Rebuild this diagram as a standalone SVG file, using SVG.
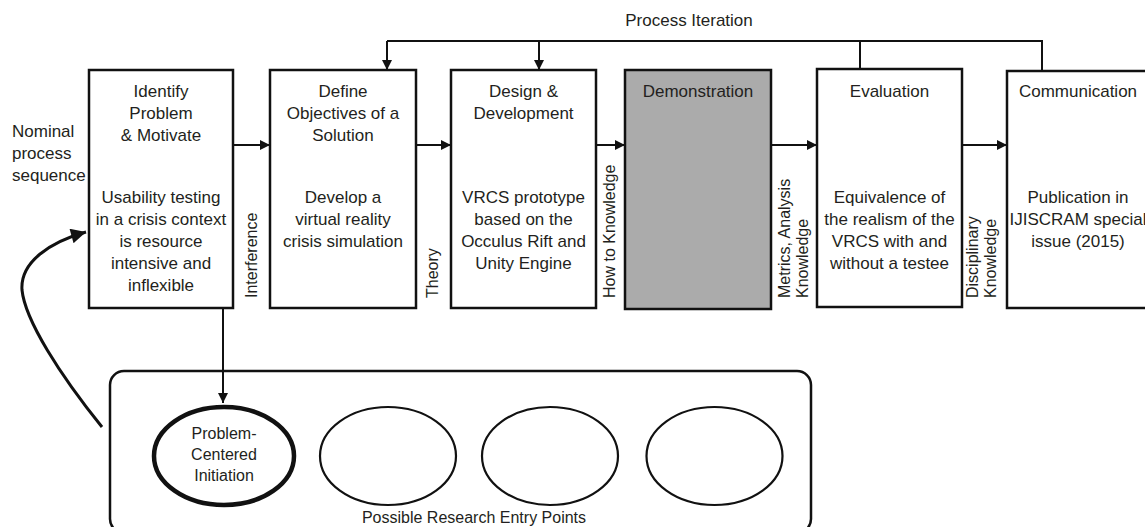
<svg xmlns="http://www.w3.org/2000/svg" width="1145" height="527" viewBox="0 0 1145 527">
<style>
text{font-family:"Liberation Sans",Arial,sans-serif;fill:#231f20;}
.t{font-size:17px;text-anchor:middle;}
.s{font-size:16px;}
.m{font-size:16px;text-anchor:middle;}
.box{fill:#fff;stroke:#111;stroke-width:2.5;}
.ln{fill:none;stroke:#111;stroke-width:2;}
.ell{fill:#fff;stroke:#111;stroke-width:2.2;}
</style>
<defs>
<marker id="ah" viewBox="0 0 10 10" refX="10" refY="5" markerWidth="10" markerHeight="10" markerUnits="userSpaceOnUse" orient="auto">
<path d="M0,0 L10,5 L0,10 Z" fill="#111"/>
</marker>
<marker id="ahBig" viewBox="0 0 10 10" refX="10" refY="5" markerWidth="17" markerHeight="15" markerUnits="userSpaceOnUse" orient="auto">
<path d="M0,0 L10,5 L0,10 Z" fill="#111"/>
</marker>
</defs>

<text x="689" y="26" class="t">Process Iteration</text>
<text x="12" y="137" style="font-size:17px">Nominal</text>
<text x="12" y="159" style="font-size:17px">process</text>
<text x="12" y="181" style="font-size:17px">sequence</text>

<g id="container">
<rect x="110" y="371" width="701" height="162" rx="14" fill="none" stroke="#111" stroke-width="2.5"/>
<text x="474" y="523" class="m">Possible Research Entry Points</text>
</g>

<g id="n1">
<rect class="box" x="89" y="70" width="144" height="238"/>
<text class="t" x="161" y="97">Identify</text>
<text class="t" x="161" y="119">Problem</text>
<text class="t" x="161" y="141">&amp; Motivate</text>
<text class="t" x="161" y="203">Usability testing</text>
<text class="t" x="161" y="225">in a crisis context</text>
<text class="t" x="161" y="247">is resource</text>
<text class="t" x="161" y="269">intensive and</text>
<text class="t" x="161" y="291">inflexible</text>
</g>
<g id="n2">
<rect class="box" x="270" y="70" width="146" height="238"/>
<text class="t" x="343" y="97">Define</text>
<text class="t" x="343" y="119">Objectives of a</text>
<text class="t" x="343" y="141">Solution</text>
<text class="t" x="343" y="203">Develop a</text>
<text class="t" x="343" y="225">virtual reality</text>
<text class="t" x="343" y="247">crisis simulation</text>
</g>
<g id="n3">
<rect class="box" x="451" y="70" width="145" height="238"/>
<text class="t" x="523.5" y="97">Design &amp;</text>
<text class="t" x="523.5" y="119">Development</text>
<text class="t" x="523.5" y="203">VRCS prototype</text>
<text class="t" x="523.5" y="225">based on the</text>
<text class="t" x="523.5" y="247">Occulus Rift and</text>
<text class="t" x="523.5" y="269">Unity Engine</text>
</g>
<g id="n4">
<rect class="box" x="625" y="70" width="146" height="239" style="fill:#ababab"/>
<text class="t" x="698" y="97">Demonstration</text>
</g>
<g id="n5">
<rect class="box" x="817" y="69" width="145" height="238"/>
<text class="t" x="889.5" y="97">Evaluation</text>
<text class="t" x="889.5" y="203">Equivalence of</text>
<text class="t" x="889.5" y="225">the realism of the</text>
<text class="t" x="889.5" y="247">VRCS with and</text>
<text class="t" x="889.5" y="269">without a testee</text>
</g>
<g id="n6">
<rect class="box" x="1007" y="71" width="160" height="237"/>
<text class="t" x="1078" y="97">Communication</text>
<text class="t" x="1078" y="203">Publication in</text>
<text class="t" x="1078" y="225">IJISCRAM special</text>
<text class="t" x="1078" y="247">issue (2015)</text>
</g>

<g id="e1">
<ellipse cx="224" cy="456" rx="70" ry="49" fill="#fff" stroke="#111" stroke-width="4.5"/>
<text class="m" x="224" y="439">Problem-</text>
<text class="m" x="224" y="460">Centered</text>
<text class="m" x="224" y="481">Initiation</text>
</g>
<g id="e2"><ellipse class="ell" cx="388" cy="456" rx="68" ry="49"/></g>
<g id="e3"><ellipse class="ell" cx="550" cy="456" rx="68" ry="49"/></g>
<g id="e4"><ellipse class="ell" cx="714.5" cy="456" rx="68" ry="49"/></g>

<g id="connectors">
<path class="ln" d="M387,41 H1042 V71"/>
<path class="ln" d="M387,41 V70" marker-end="url(#ah)"/>
<path class="ln" d="M539,41 V70" marker-end="url(#ah)"/>
<path class="ln" d="M860,41 V69"/>
<path class="ln" d="M232,145 H270" marker-end="url(#ah)"/>
<path class="ln" d="M416,145 H451" marker-end="url(#ah)"/>
<path class="ln" d="M597,145 H625" marker-end="url(#ah)"/>
<path class="ln" d="M771,145 H817" marker-end="url(#ah)"/>
<path class="ln" d="M962,145 H1007" marker-end="url(#ah)"/>
<path class="ln" d="M223,308 V403" marker-end="url(#ah)"/>
<path d="M102,427 C60,375 25,320 22,290 C20,262 50,242 86,232" fill="none" stroke="#111" stroke-width="3" marker-end="url(#ahBig)"/>
<text class="s" transform="translate(257,298) rotate(-90)">Interference</text>
<text class="s" transform="translate(438,298) rotate(-90)">Theory</text>
<text class="s" transform="translate(615,298) rotate(-90)">How to Knowledge</text>
<text class="s" transform="translate(790,298) rotate(-90)">Metrics, Analysis</text>
<text class="s" transform="translate(808,298) rotate(-90)">Knowledge</text>
<text class="s" transform="translate(978,298) rotate(-90)">Disciplinary</text>
<text class="s" transform="translate(996,298) rotate(-90)">Knowledge</text>
</g>
</svg>
